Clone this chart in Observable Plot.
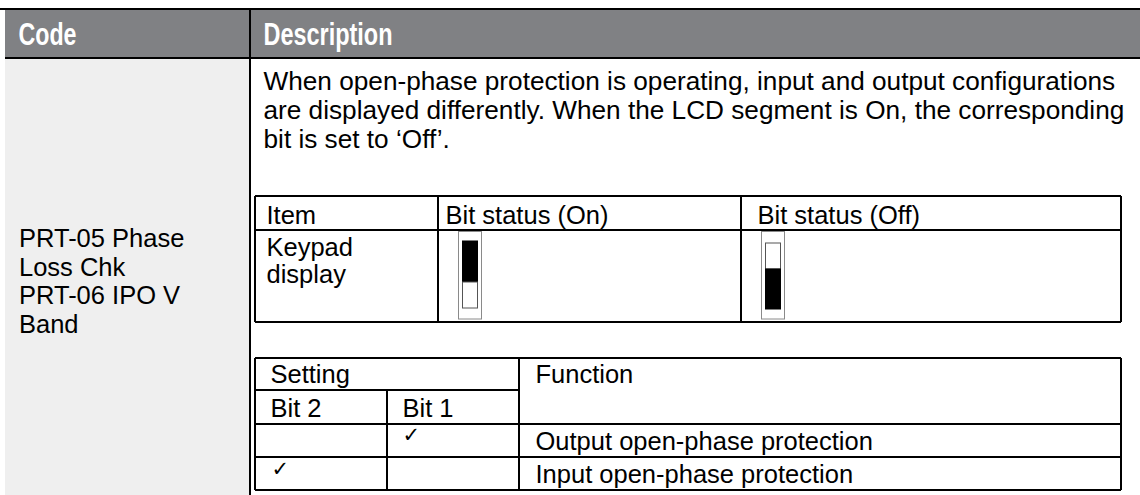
<!DOCTYPE html>
<html><head><meta charset="utf-8">
<script src="https://cdn.jsdelivr.net/npm/d3@7"></script>
<script src="https://cdn.jsdelivr.net/npm/@observablehq/plot@0.6"></script>
<style>
html,body{margin:0;padding:0;background:#fff;}
#chart svg{display:block;}
</style></head><body><div id="chart"></div>
<script>
// ---------------- data (content only) ----------------
const headerLabels = ["Code", "Description"];
const codeLines = ["PRT-05 Phase", "Loss Chk", "PRT-06 IPO V", "Band"];
const descriptionLines = [
  "When open-phase protection is operating, input and output configurations",
  "are displayed differently. When the LCD segment is On, the corresponding",
  "bit is set to \u2018Off\u2019."
];
const statusHeaders = ["Item", "Bit status (On)", "Bit status (Off)"];
const statusItemLines = ["Keypad", "display"];
const statusStates = ["On", "Off"];
const statusLitSegment = ["upper", "lower"];
const settingHeaders = ["Setting", "Function"];
const bitLabels = ["Bit 2", "Bit 1"];
const bit2Checks = [false, true];
const bit1Checks = [true, false];
const functionLabels = ["Output open-phase protection", "Input open-phase protection"];
const checkGlyph = "\u2713";

// ---------------- layout (pixel geometry & styles) ----------------
const W = 1140, H = 495;
const LY = {
  left: 5, topLine: 9, headTop: 10, headBottom: 57, headLine: 58, divider: 250,
  headerBaseline: 44, headerX: [18, 263], headerTextLength: [58, 129],
  codeX: 18.5, codeBase0: 246.5, codeStep: 28.6,
  descX: 263, descBase0: 89, descStep: 29,
  t1: {cols: [255, 438, 741, 1121], rows: [196, 230, 322],
       textX: [266, 445, 757], headBase: 223, itemBase0: 255, itemStep: 27.5,
       iconOffset: 20.5, iconW: 23, iconTop: 231.5, iconBottom: 319,
       innerInset: 4, innerW: 15,
       seg: {On: {top: 241, split: 282, bottom: 308}, Off: {top: 243, split: 269, bottom: 309}}},
  t2: {cols: [255, 387, 519, 1121], rows: [358, 390, 424, 457, 490],
       textX: [270, 402, 535], checkX: [271, 402],
       bases: [382, 416, 449, 482], checkBases: [441.5, 475]}
};
const FONT = "'Liberation Sans', Arial, Helvetica, sans-serif";
const FS = 25.5;
const INK = "#000";

// ---------------- derived mark data ----------------
const headerData = headerLabels.map((t, i) => ({t, x: LY.headerX[i], y: LY.headerBaseline}));
const codeData = codeLines.map((t, i) => ({t, x: LY.codeX, y: LY.codeBase0 + i * LY.codeStep}));
const descData = descriptionLines.map((t, i) => ({t, x: LY.descX, y: LY.descBase0 + i * LY.descStep}));
const t1 = LY.t1, t2 = LY.t2;
const t1Text = statusHeaders.map((t, i) => ({t, x: t1.textX[i], y: t1.headBase}))
  .concat(statusItemLines.map((t, i) => ({t, x: t1.textX[0], y: t1.itemBase0 + i * t1.itemStep})));
const t2Text = [
  {t: settingHeaders[0], x: t2.textX[0], y: t2.bases[0]},
  {t: settingHeaders[1], x: t2.textX[2], y: t2.bases[0]},
  {t: bitLabels[0], x: t2.textX[0], y: t2.bases[1]},
  {t: bitLabels[1], x: t2.textX[1], y: t2.bases[1]},
  ...functionLabels.map((t, i) => ({t, x: t2.textX[2], y: t2.bases[2 + i]}))
];
const checkData = [];
bit2Checks.forEach((c, i) => { if (c) checkData.push({x: t2.checkX[0], y: t2.checkBases[i]}); });
bit1Checks.forEach((c, i) => { if (c) checkData.push({x: t2.checkX[1], y: t2.checkBases[i]}); });

// horizontal and vertical rules
const hLines = [
  {y: LY.topLine, x1: 0, x2: W},
  {y: LY.headLine, x1: LY.left, x2: W},
  ...t1.rows.map(y => ({y, x1: t1.cols[0], x2: t1.cols[3]})),
  {y: t2.rows[0], x1: t2.cols[0], x2: t2.cols[3]},
  {y: t2.rows[1], x1: t2.cols[0], x2: t2.cols[2]},
  ...t2.rows.slice(2).map(y => ({y, x1: t2.cols[0], x2: t2.cols[3]}))
];
const vLines = [
  {x: LY.divider, y1: LY.headTop, y2: H},
  ...t1.cols.map(x => ({x, y1: t1.rows[0], y2: t1.rows[2]})),
  {x: t2.cols[0], y1: t2.rows[0], y2: t2.rows[4]},
  {x: t2.cols[1], y1: t2.rows[1], y2: t2.rows[4]},
  {x: t2.cols[2], y1: t2.rows[0], y2: t2.rows[4]},
  {x: t2.cols[3], y1: t2.rows[0], y2: t2.rows[4]}
];

// icons
const iconOuter = statusStates.map((s, j) => {
  const x1 = t1.cols[j + 1] + t1.iconOffset;
  return {x1, x2: x1 + t1.iconW, y1: t1.iconTop, y2: t1.iconBottom};
});
const iconSegs = [];
statusStates.forEach((s, j) => {
  const g = t1.seg[s];
  const x1 = iconOuter[j].x1 + t1.innerInset, x2 = x1 + t1.innerW;
  const upperLit = statusLitSegment[j] === "upper";
  iconSegs.push({x1, x2, y1: g.top, y2: g.split, lit: upperLit});
  iconSegs.push({x1, x2, y1: g.split, y2: g.bottom, lit: !upperLit});
});

const txt = (data, extra = {}) => Plot.text(data, {
  x: "x", y: "y", text: "t", textAnchor: "start", lineAnchor: "bottom",
  fontFamily: FONT, fontSize: FS, fill: INK, ...extra
});

const plot = Plot.plot({
  width: W, height: H, margin: 0,
  x: {domain: [0, W], range: [0, W], axis: null},
  y: {domain: [0, H], range: [0, H], axis: null},
  style: {background: "#fff", overflow: "visible"},
  marks: [
    Plot.rect([{x1: LY.left, x2: W, y1: LY.headTop, y2: LY.headBottom}], {x1: "x1", x2: "x2", y1: "y1", y2: "y2", fill: "#808184"}),
    Plot.rect([{x1: LY.left, x2: LY.divider - 1, y1: LY.headLine + 1, y2: H}], {x1: "x1", x2: "x2", y1: "y1", y2: "y2", fill: "#efefef"}),
    Plot.ruleY(hLines, {y: "y", x1: "x1", x2: "x2", stroke: "#000", strokeWidth: 2, dy: -0.5}),
    Plot.ruleX(vLines, {x: "x", y1: "y1", y2: "y2", stroke: "#000", strokeWidth: 2, dx: -0.5}),
    Plot.rect(iconOuter, {x1: "x1", x2: "x2", y1: "y1", y2: "y2", fill: "#fff", stroke: "#8a8a8a", strokeWidth: 1}),
    Plot.rect(iconSegs, {x1: "x1", x2: "x2", y1: "y1", y2: "y2", fill: d => d.lit ? "#000" : "#fff", stroke: d => d.lit ? "#000" : "#555", strokeWidth: 1}),
    txt(headerData, {fill: "#fff", fontWeight: "bold", fontSize: 31}),
    txt(codeData),
    txt(descData, {fontSize: 26.2}),
    txt(t1Text),
    txt(t2Text),
    Plot.text(checkData, {x: "x", y: "y", text: () => checkGlyph, textAnchor: "start", lineAnchor: "bottom",
      fontFamily: "'DejaVu Sans', sans-serif", fontSize: 21, fill: INK})
  ]
});

d3.select(plot).selectAll("text").filter(function () { return headerLabels.includes(this.textContent); })
  .each(function () {
    const i = headerLabels.indexOf(this.textContent);
    this.setAttribute("textLength", LY.headerTextLength[i]);
    this.setAttribute("lengthAdjust", "spacingAndGlyphs");
  });

document.getElementById("chart").appendChild(plot);
</script></body></html>
